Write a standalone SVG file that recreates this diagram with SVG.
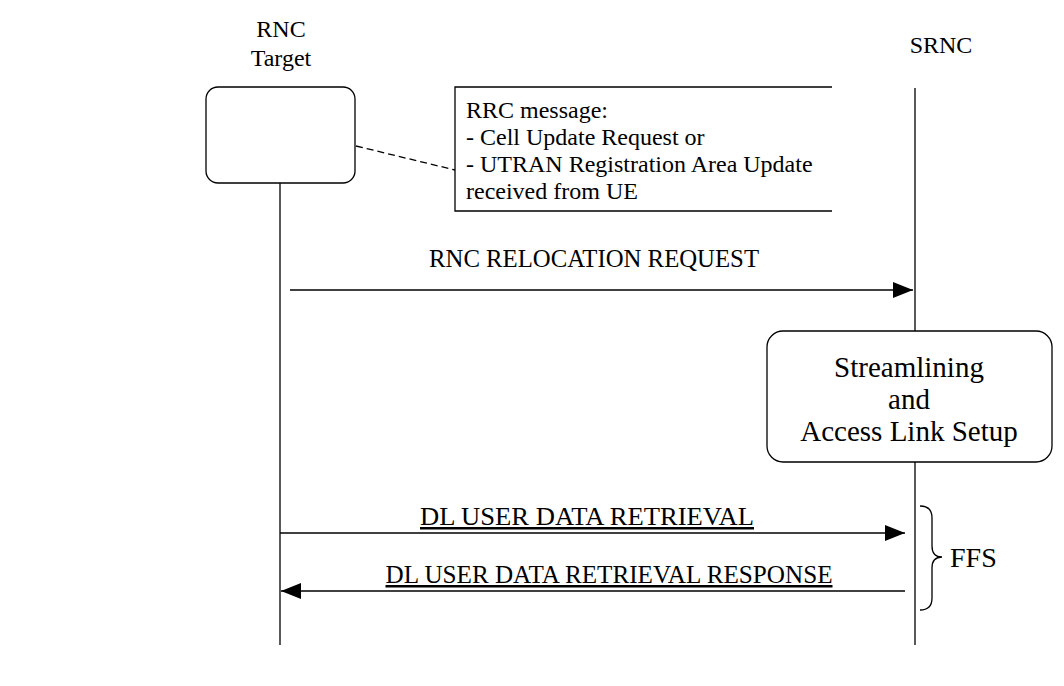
<svg xmlns="http://www.w3.org/2000/svg" width="1064" height="686" viewBox="0 0 1064 686">
<style>
text{font-family:"Liberation Serif","Times New Roman",serif;fill:#000}
.l{stroke:#000;stroke-width:1.3;fill:none}
.b{stroke:#000;stroke-width:1.3;fill:#fff}
.a{stroke:#000;stroke-width:1.6;fill:none}
.t{font-size:24px}
.s{font-size:25px}
.m{font-size:24px}
.u{text-decoration:underline}
.big{font-size:29px}
</style>
<defs>
<marker id="ah" viewBox="0 0 20 16" refX="20" refY="8" markerWidth="20" markerHeight="16" markerUnits="userSpaceOnUse" orient="auto">
<path d="M0,0 L20,8 L0,16 Z" fill="#000"/>
</marker>
</defs>
<rect width="1064" height="686" fill="#fff"/>
<g id="rnc-target">
<text class="t" x="281" y="37" text-anchor="middle">RNC</text>
<text class="t" x="281" y="66" text-anchor="middle">Target</text>
<rect x="206" y="87" width="149" height="96" rx="12" class="b"/>
<line x1="280" y1="183" x2="280" y2="645" class="l"/>
</g>
<g id="srnc">
<text class="t" x="941" y="53" text-anchor="middle">SRNC</text>
<line x1="915" y1="88" x2="915" y2="645" class="l"/>
</g>
<g id="note">
<path d="M832,87 H455 V211 H832" class="l"/>
<text class="m" x="466" y="118">RRC message:</text>
<text class="m" x="466" y="145">- Cell Update Request or</text>
<text class="m" x="466" y="172">- UTRAN Registration Area Update</text>
<text class="m" x="466" y="199">received from UE</text>
</g>
<g id="streamlining">
<rect x="767" y="331" width="285" height="131" rx="16" class="b"/>
<text class="big" x="909" y="377" text-anchor="middle">Streamlining</text>
<text class="big" x="909" y="409" text-anchor="middle">and</text>
<text class="big" x="909" y="441" text-anchor="middle">Access Link Setup</text>
</g>
<g id="ffs">
<path d="M920,506 Q932,506 932,518 V546 Q932,557 942,557 Q932,557 932,568 V598 Q932,610 920,610" class="l"/>
<text font-size="28" x="950" y="567">FFS</text>
</g>
<g id="connectors">
<line x1="356" y1="146" x2="455" y2="170" class="l" stroke-dasharray="7,4"/>
<line x1="290" y1="290" x2="913" y2="290" class="a" marker-end="url(#ah)"/>
<text class="s" x="594" y="267" text-anchor="middle" textLength="330" lengthAdjust="spacingAndGlyphs">RNC RELOCATION REQUEST</text>
<line x1="280" y1="533" x2="905" y2="533" class="a" marker-end="url(#ah)"/>
<text class="s u" x="587" y="525" text-anchor="middle" textLength="334" lengthAdjust="spacingAndGlyphs">DL USER DATA RETRIEVAL</text>
<line x1="905" y1="591" x2="281" y2="591" class="a" marker-end="url(#ah)"/>
<text class="s u" x="609" y="583" text-anchor="middle" textLength="447" lengthAdjust="spacingAndGlyphs">DL USER DATA RETRIEVAL RESPONSE</text>
</g>
</svg>
